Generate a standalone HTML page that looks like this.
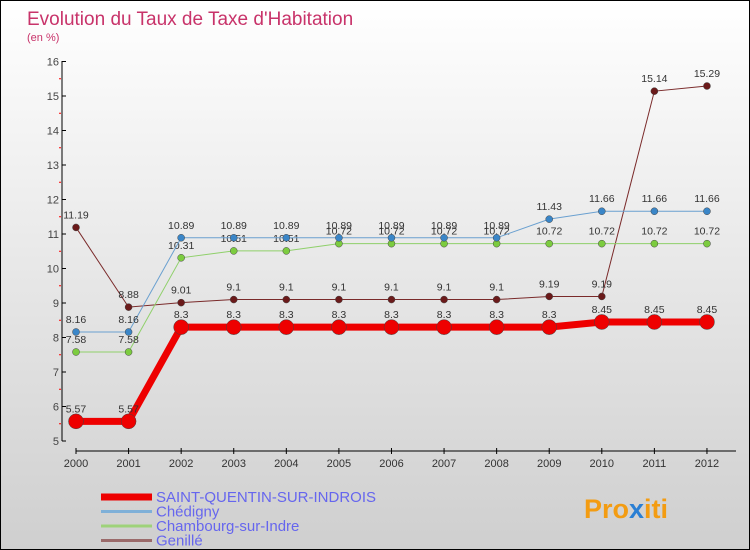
<!DOCTYPE html>
<html><head><meta charset="utf-8"><style>
body{margin:0}
#wrap{width:748px;height:548px;border:1px solid #000;background:linear-gradient(#fff,#cfcfcf);position:relative;font-family:"Liberation Sans",sans-serif;overflow:hidden}
</style></head><body>
<div id="wrap">
<svg id="c" width="748" height="548" xmlns="http://www.w3.org/2000/svg">
<text x="26" y="24" font-size="19" fill="#c8336a">Evolution du Taux de Taxe d'Habitation</text>
<text x="26" y="40" font-size="11" fill="#c8336a">(en %)</text>
<g id="axes"></g><g id="series"></g><g id="legend"></g>
<text x="583" y="517" font-size="27" font-weight="bold" fill="#f39c12">Pro<tspan fill="#2a7fd4">x</tspan>iti</text>
</svg></div>
<script>
const years=[2000,2001,2002,2003,2004,2005,2006,2007,2008,2009,2010,2011,2012];
const yTicks=[5,6,7,8,9,10,11,12,13,14,15,16];
const sq=[5.57,5.57,8.3,8.3,8.3,8.3,8.3,8.3,8.3,8.3,8.45,8.45,8.45];
const chedigny=[8.16,8.16,10.89,10.89,10.89,10.89,10.89,10.89,10.89,11.43,11.66,11.66,11.66];
const chambourg=[7.58,7.58,10.31,10.51,10.51,10.72,10.72,10.72,10.72,10.72,10.72,10.72,10.72];
const genille=[11.19,8.88,9.01,9.1,9.1,9.1,9.1,9.1,9.1,9.19,9.19,15.14,15.29];
const names=["SAINT-QUENTIN-SUR-INDROIS","Chédigny","Chambourg-sur-Indre","Genillé"];
const NS="http://www.w3.org/2000/svg";
const X=i=>75+i*52.58, Y=v=>440-(v-5)*34.5;
function mk(t,a,p){const e=document.createElementNS(NS,t);for(const k in a)e.setAttribute(k,a[k]);p.appendChild(e);return e;}
const ax=document.getElementById('axes');
let l=mk('line',{x1:61,y1:60,x2:61,y2:440,stroke:'#000'},ax);


l=mk('line',{x1:75,y1:450,x2:735,y2:450,stroke:'#000'},ax);


yTicks.forEach(v=>{mk('line',{x1:61,y1:Y(v),x2:65,y2:Y(v),stroke:'#000'},ax);
 if(v<16)mk('line',{x1:58,y1:Y(v+0.5),x2:60,y2:Y(v+0.5),stroke:'#f00'},ax);
 const t=mk('text',{x:58,y:Y(v)+4,'font-size':11,fill:'#444','text-anchor':'end'},ax);t.textContent=v;
 
 });
years.forEach((y,i)=>{mk('line',{x1:X(i),y1:447,x2:X(i),y2:453,stroke:'#000'},ax);
 const t=mk('text',{x:X(i),y:466,'font-size':11,fill:'#333','text-anchor':'middle'},ax);t.textContent=y;
 
 });
const sg=document.getElementById('series');
const defs=[[genille,'#7a2a2a','#6b1a1a',1,3.5,'genille'],[chambourg,'#8fd06a','#7ccc3f',1,3.5,'chambourg'],[chedigny,'#6aa0d0','#3a86c8',1,3.5,'chedigny'],[sq,'#ee0000','#ee0000',7,7.5,'saint-quentin']];
defs.forEach(([d,lc,pc,w,r,n])=>{
 const g=mk('g',{},sg);
 
 
 const p=mk('polyline',{points:d.map((v,i)=>X(i)+','+Y(v)).join(' '),fill:'none',stroke:lc,'stroke-width':w},g);
 
 
 d.forEach((v,i)=>{const c=mk('circle',{cx:X(i),cy:Y(v),r:r,fill:pc,stroke:'#444','stroke-width':0.5},g);
  
  
  const t=mk('text',{x:X(i),y:Y(v)-9,'font-size':10.5,fill:'#333','text-anchor':'middle'},g);t.textContent=v;
  
  });
});
const lg=document.getElementById('legend');
const lcol=['#ee0000','#7fb0d8','#9ed27a','#9a6a6a'],lw=[7,3,3,3];
names.forEach((n,i)=>{const y=496+i*14.5;
 const ln=mk('line',{x1:100,y1:y,x2:151,y2:y,stroke:lcol[i],'stroke-width':lw[i]},lg);
 
 
 const t=mk('text',{x:155,y:y+5,'font-size':15,fill:'#6666ee'},lg);t.textContent=n;
 
 });
</script></body></html>
